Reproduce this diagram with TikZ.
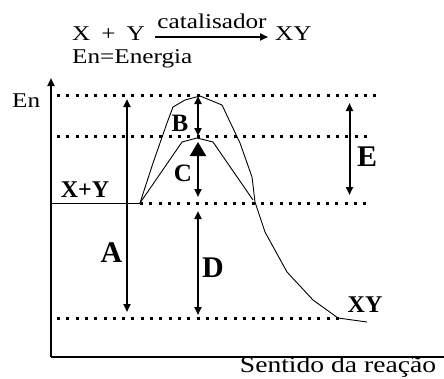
\documentclass[tikz,border=0pt]{standalone}
\usepackage{fontspec}
\setmainfont{Liberation Serif}[FakeStretch=1.2]
\newfontfamily\lblfont{Liberation Serif}
\usetikzlibrary{arrows.meta,positioning}

\begin{document}
\begin{tikzpicture}[x=1pt,y=-1pt,
 lvl/.style={line width=3pt,dash pattern=on 3pt off 6.3pt},
 dbl/.style={line width=2pt,{Triangle[length=8pt,width=7pt]}-{Triangle[length=8pt,width=7pt]}},
 big/.style={font=\fontsize{30}{32}\lblfont\bfseries,inner sep=0pt},
 mid/.style={font=\fontsize{25}{27}\lblfont\bfseries,inner sep=0pt},
 sml/.style={font=\fontsize{24}{26}\lblfont\bfseries,inner sep=0pt},
 txt/.style={font=\fontsize{21}{23}\selectfont,inner sep=0pt},
 >={Triangle[length=8pt,width=7pt]}]
\useasboundingbox (0,0) rectangle (444,378);
% reaction line
\node[txt,anchor=base west] (r) at (72,40) {X\hspace{11pt}+\hspace{11pt}Y};
\coordinate (c1) at (155,37);
\coordinate (c2) at (268,37);
\draw[->,line width=1.8pt] (c1) -- (c2);
\node[txt,anchor=base] (cat) at (212,28.5) {catalisador};
\node[txt,anchor=base west] (p) at (275,40) {XY};
\node[txt,anchor=base west] (en) at (72,63.5) {En=Energia};
% axes
\coordinate (o) at (51,357);
\coordinate (ytop) at (51,78);
\coordinate (xend) at (444,357);
\draw[->,line width=2pt] (o) -- (ytop);
\draw[line width=2pt] (o) -- (xend);
\node[txt,anchor=base west] (ylab) at (12,107) {En};
\node[txt,anchor=base,font=\fontsize{23}{25}\selectfont] (xlab) at (338,372.5) {Sentido da reação};
% energy levels
\coordinate (t1) at (57,95);   \coordinate (t2) at (382,95);
\coordinate (m1) at (57,136.5); \coordinate (m2) at (372,136.5);
\coordinate (r0) at (51,203);  \coordinate (r1) at (140,203); \coordinate (r2) at (372,203);
\coordinate (p1) at (57,318);  \coordinate (p2) at (340,318);
\draw[lvl] (t1) -- (t2);
\draw[lvl] (m1) -- (m2);
\draw[lvl] (r1) -- (r2);
\draw[lvl] (p1) -- (p2);
\draw[line width=1pt] (r0) -- (r1);
% curves
\draw[line width=0.9pt] (r1) -- (153,163) -- (167,123) -- (173,107) -- (185,100)
  -- (200,96) -- (222,105) -- (240,143) -- (252,177) -- (255,202) -- (265,232)
  -- (287,272) -- (313,300) -- (338,318) -- (367,322);
\draw[line width=0.9pt] (r1) -- (182,142) -- (197,138) -- (213,142) -- (253,200);
% arrows
\coordinate (a1) at (127,312); \coordinate (a2) at (127,99);
\coordinate (d1) at (198,315); \coordinate (d2) at (198,211);
\coordinate (b1) at (198,96);  \coordinate (b2) at (198,136);
\coordinate (k1) at (198,197); \coordinate (k2) at (198,142);
\coordinate (e1) at (349.5,103); \coordinate (e2) at (349.5,195);
\draw[dbl] (a1) -- (a2);
\draw[dbl] (d1) -- (d2);
\draw[dbl] (b1) -- (b2);
\draw[line width=2pt,{Triangle[length=8pt,width=7pt]}-{Triangle[length=14pt,width=16pt]}] (k1) -- (k2);
\draw[dbl] (e1) -- (e2);
% labels
\node[big] (la) at (111.5,253) {A};
\node[big] (ld) at (213,268) {D};
\node[big] (le) at (367,157) {E};
\node[mid] (lb) at (180,123) {B};
\node[mid] (lc) at (183,173) {C};
\node[sml] (lxy) at (85,190) {X+Y};
\node[sml] (lp) at (365,305) {XY};
\end{tikzpicture}
\end{document}
